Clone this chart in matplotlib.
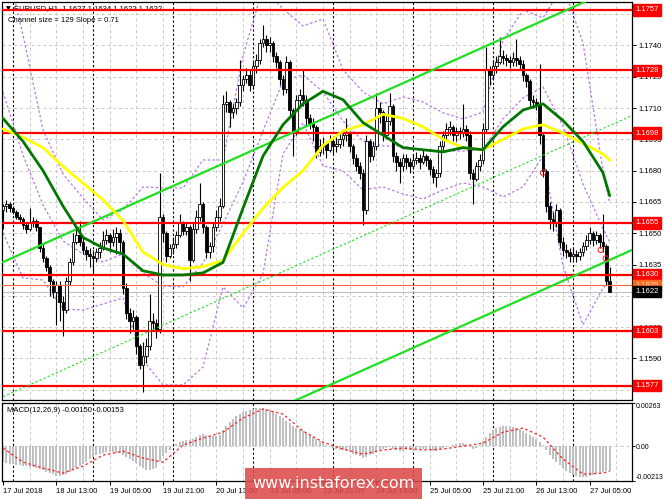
import matplotlib.pyplot as plt
from matplotlib.patches import Rectangle
import numpy as np

plt.rcParams['font.family'] = ['Liberation Sans', 'DejaVu Sans']

# EURUSD H1, bar 0 = 17 Jul 21:00
first_open = 1.1661
closes = [
    1.1663, 1.1664, 1.1662, 1.1660, 1.1658, 1.1657, 1.1654, 1.1652, 1.1655, 1.1656,
    1.1653, 1.1643, 1.1638, 1.1634, 1.1627, 1.1622, 1.1625, 1.1617, 1.1613, 1.1627,
    1.1636, 1.1646, 1.1649, 1.1646, 1.1642, 1.1640, 1.1639, 1.1638, 1.1641, 1.1643,
    1.1647, 1.1649, 1.1646, 1.1648, 1.1650, 1.1646, 1.1624, 1.1612, 1.1608, 1.1610,
    1.1596, 1.1587, 1.1591, 1.1596, 1.1608, 1.1607, 1.1604, 1.1658, 1.1650, 1.1639,
    1.1643, 1.1645, 1.1649, 1.1655, 1.1651, 1.1653, 1.1637, 1.1652, 1.1658, 1.1664,
    1.1653, 1.1641, 1.1644, 1.1653, 1.1658, 1.1663, 1.1712, 1.1713, 1.1708, 1.1710,
    1.1713, 1.1721, 1.1724, 1.1726, 1.1721, 1.1730, 1.1733, 1.1741, 1.1743, 1.1740,
    1.1741, 1.1735, 1.1732, 1.1724, 1.1719, 1.1732, 1.1709, 1.1699, 1.1714, 1.1716,
    1.1714, 1.1705, 1.1703, 1.1701, 1.1689, 1.1692, 1.1693, 1.1690, 1.1694, 1.1692,
    1.1693, 1.1695, 1.1697, 1.1698, 1.1692, 1.1686, 1.1682, 1.1679, 1.1661, 1.1694,
    1.1687, 1.1692, 1.1710, 1.1708, 1.1697, 1.1704, 1.1711, 1.1687, 1.1684, 1.1682,
    1.1686, 1.1684, 1.1682, 1.1685, 1.1686, 1.1684, 1.1687, 1.1685, 1.1681, 1.1677,
    1.1679, 1.1692, 1.1697, 1.1700, 1.1701, 1.1697, 1.1699, 1.1698, 1.1700, 1.1697,
    1.1679, 1.1676, 1.1682, 1.1685, 1.1700, 1.1728, 1.1726, 1.1730, 1.1732, 1.1735,
    1.1734, 1.1733, 1.1732, 1.1734, 1.1733, 1.1731, 1.1726, 1.1723, 1.1714, 1.1713,
    1.1712, 1.1697, 1.1680, 1.1663, 1.1657, 1.1655, 1.1661, 1.1646, 1.1642, 1.1641,
    1.1639, 1.1640, 1.1639, 1.1641, 1.1644, 1.1647, 1.1650, 1.1647, 1.1649, 1.1646,
    1.1644, 1.1627, 1.1622]
highs = [
    1.1664, 1.1666, 1.1665, 1.1663, 1.1661, 1.1659, 1.1658, 1.1655, 1.1662, 1.1658,
    1.1657, 1.1653, 1.1645, 1.1639, 1.1635, 1.1628, 1.1627, 1.1627, 1.1620, 1.1629,
    1.1638, 1.1650, 1.1652, 1.1656, 1.1648, 1.1644, 1.1643, 1.1642, 1.1643, 1.1646,
    1.1651, 1.1652, 1.1650, 1.1652, 1.1653, 1.1652, 1.1647, 1.1626, 1.1614, 1.1613,
    1.1611, 1.1597, 1.1598, 1.1600, 1.1621, 1.1612, 1.1609, 1.1679, 1.1659, 1.1651,
    1.1645, 1.1648, 1.1651, 1.1659, 1.1656, 1.1655, 1.1654, 1.1655, 1.1661, 1.1674,
    1.1665, 1.1654, 1.1646, 1.1655, 1.1661, 1.1667, 1.1716, 1.1718, 1.1714, 1.1712,
    1.1715, 1.1733, 1.1726, 1.1729, 1.1728, 1.1732, 1.1736, 1.1743, 1.1750, 1.1745,
    1.1744, 1.1742, 1.1737, 1.1733, 1.1726, 1.1735, 1.1733, 1.1710, 1.1716, 1.1719,
    1.1728, 1.1716, 1.1707, 1.1705, 1.1702, 1.1695, 1.1696, 1.1694, 1.1697, 1.1695,
    1.1696, 1.1698, 1.1699, 1.1705, 1.1699, 1.1693, 1.1688, 1.1684, 1.1681, 1.1697,
    1.1695, 1.1694, 1.1717, 1.1713, 1.1709, 1.1707, 1.1717, 1.1712, 1.1689, 1.1686,
    1.1688, 1.1688, 1.1686, 1.1688, 1.1689, 1.1688, 1.1690, 1.1688, 1.1686, 1.1682,
    1.1681, 1.1694, 1.1699, 1.1703, 1.1704, 1.1702, 1.1701, 1.1701, 1.1712, 1.1702,
    1.1699, 1.1681, 1.1684, 1.1688, 1.1703, 1.1739, 1.1730, 1.1733, 1.1735, 1.1744,
    1.1738, 1.1736, 1.1735, 1.1737, 1.1743, 1.1735, 1.1733, 1.1727, 1.1724, 1.1716,
    1.1715, 1.1731, 1.1698, 1.1681, 1.1665, 1.1660, 1.1664, 1.1662, 1.1648, 1.1645,
    1.1643, 1.1643, 1.1642, 1.1643, 1.1646, 1.1649, 1.1653, 1.1651, 1.1651, 1.1650,
    1.1659, 1.1645, 1.1634]
lows = [
    1.1652, 1.1660, 1.1660, 1.1659, 1.1657, 1.1655, 1.1652, 1.1650, 1.1651, 1.1653,
    1.1651, 1.1641, 1.1636, 1.1632, 1.1620, 1.1619, 1.1606, 1.1608, 1.1601, 1.1612,
    1.1625, 1.1635, 1.1645, 1.1644, 1.1640, 1.1637, 1.1634, 1.1630, 1.1636, 1.1638,
    1.1642, 1.1645, 1.1641, 1.1644, 1.1640, 1.1641, 1.1621, 1.1609, 1.1602, 1.1604,
    1.1592, 1.1585, 1.1574, 1.1588, 1.1594, 1.1603, 1.1600, 1.1602, 1.1646, 1.1636,
    1.1638, 1.1640, 1.1643, 1.1648, 1.1649, 1.1649, 1.1627, 1.1636, 1.1650, 1.1656,
    1.1650, 1.1638, 1.1638, 1.1641, 1.1651, 1.1656, 1.1662, 1.1708, 1.1701, 1.1705,
    1.1707, 1.1711, 1.1718, 1.1722, 1.1718, 1.1719, 1.1727, 1.1731, 1.1739, 1.1737,
    1.1737, 1.1732, 1.1729, 1.1721, 1.1716, 1.1717, 1.1706, 1.1687, 1.1697, 1.1711,
    1.1711, 1.1702, 1.1700, 1.1694, 1.1686, 1.1687, 1.1688, 1.1686, 1.1689, 1.1688,
    1.1689, 1.1691, 1.1692, 1.1694, 1.1689, 1.1683, 1.1680, 1.1676, 1.1654, 1.1659,
    1.1684, 1.1685, 1.1690, 1.1703, 1.1694, 1.1695, 1.1702, 1.1684, 1.1680, 1.1674,
    1.1680, 1.1681, 1.1679, 1.1681, 1.1683, 1.1681, 1.1683, 1.1682, 1.1678, 1.1674,
    1.1672, 1.1677, 1.1690, 1.1695, 1.1697, 1.1694, 1.1694, 1.1695, 1.1696, 1.1694,
    1.1676, 1.1664, 1.1675, 1.1680, 1.1683, 1.1698, 1.1721, 1.1724, 1.1727, 1.1731,
    1.1731, 1.1730, 1.1729, 1.1730, 1.1730, 1.1728, 1.1723, 1.1720, 1.1711, 1.1710,
    1.1709, 1.1693, 1.1677, 1.1660, 1.1652, 1.1651, 1.1653, 1.1643, 1.1639, 1.1638,
    1.1636, 1.1637, 1.1636, 1.1637, 1.1639, 1.1642, 1.1645, 1.1644, 1.1645, 1.1643,
    1.1641, 1.1625, 1.1622]
opens = [first_open] + closes[:-1]

# indicator lines, read every 6 bars
ma_idx = list(range(0, 181, 6)) + [182]
ma_green = [1.1705, 1.1694, 1.1680, 1.1663, 1.1648, 1.1643, 1.1640, 1.1632, 1.1630, 1.1630,
            1.1631, 1.1636, 1.1662, 1.1687, 1.1702, 1.1712, 1.1718, 1.1714, 1.1703, 1.1697,
            1.1691, 1.1690, 1.1689, 1.1691, 1.1690, 1.1701, 1.1709, 1.1712, 1.1704, 1.1694,
            1.1679, 1.1668]
ma_yellow = [1.1700, 1.1696, 1.1691, 1.1682, 1.1674, 1.1666, 1.1656, 1.1641, 1.1635, 1.1633,
             1.1634, 1.1637, 1.1650, 1.1662, 1.1672, 1.1680, 1.1692, 1.1699, 1.1702, 1.1707,
             1.1705, 1.1701, 1.1695, 1.1691, 1.1690, 1.1695, 1.1700, 1.1702, 1.1698, 1.1693,
             1.1688, 1.1685]
bb_upper = [1.17858, 1.17450, 1.16995, 1.16784, 1.16669, 1.16564, 1.16612, 1.16722,
            1.16717, 1.16717, 1.16851, 1.16851, 1.17350, 1.17676, 1.17575, 1.17493,
            1.17527, 1.17283, 1.17177, 1.17120, 1.17153, 1.17129, 1.17077, 1.17048,
            1.17081, 1.17422, 1.17570, 1.17532, 1.17685, 1.17412, 1.16803, 1.16645]
bb_mid = [1.17177, 1.16875, 1.16636, 1.16463, 1.16401, 1.16362, 1.16401, 1.16310,
          1.16247, 1.16243, 1.16358, 1.16545, 1.16746, 1.16990, 1.17230, 1.17259,
          1.17177, 1.17038, 1.16942, 1.16918, 1.16918, 1.16899, 1.16894, 1.16894,
          1.16899, 1.17048, 1.17148, 1.17201, 1.17014, 1.16736, 1.16521, 1.16458]
bb_lower = [1.16502, 1.16286, 1.16276, 1.16137, 1.16132, 1.16161, 1.16190, 1.15893,
            1.15773, 1.15773, 1.15859, 1.16243, 1.16142, 1.16305, 1.16880, 1.17029,
            1.16823, 1.16799, 1.16708, 1.16722, 1.16688, 1.16664, 1.16708, 1.16741,
            1.16722, 1.16674, 1.16722, 1.16870, 1.16343, 1.16061, 1.16238, 1.16267]

macd_hist = [
    -0.00098, -0.00104, -0.00110, -0.00110, -0.00116, -0.00116, -0.00122, -0.00122, -0.00128, -0.00128,
    -0.00134, -0.00140, -0.00146, -0.00159, -0.00165, -0.00171, -0.00183, -0.00183, -0.00177, -0.00171,
    -0.00159, -0.00146, -0.00134, -0.00122, -0.00110, -0.00098, -0.00079, -0.00067, -0.00055, -0.00049,
    -0.00043, -0.00037, -0.00037, -0.00037, -0.00043, -0.00043, -0.00055, -0.00067, -0.00079, -0.00092,
    -0.00104, -0.00122, -0.00134, -0.00146, -0.00146, -0.00140, -0.00134, -0.00092, -0.00061, -0.00043,
    -0.00024, -0.00006, 0.00012, 0.00024, 0.00031, 0.00037, 0.00037, 0.00043, 0.00055, 0.00067,
    0.00073, 0.00067, 0.00061, 0.00061, 0.00061, 0.00067, 0.00098, 0.00122, 0.00146, 0.00165,
    0.00183, 0.00195, 0.00207, 0.00214, 0.00220, 0.00226, 0.00232, 0.00232, 0.00232, 0.00226,
    0.00220, 0.00207, 0.00195, 0.00183, 0.00171, 0.00153, 0.00140, 0.00122, 0.00110, 0.00104,
    0.00092, 0.00079, 0.00067, 0.00055, 0.00043, 0.00031, 0.00018, 0.00006, 0.00000, -0.00012,
    -0.00018, -0.00024, -0.00024, -0.00031, -0.00037, -0.00049, -0.00055, -0.00061, -0.00073, -0.00067,
    -0.00055, -0.00049, -0.00037, -0.00024, -0.00018, -0.00012, -0.00006, -0.00018, -0.00024, -0.00031,
    -0.00031, -0.00024, -0.00024, -0.00024, -0.00018, -0.00018, -0.00018, -0.00018, -0.00024, -0.00031,
    -0.00031, -0.00024, -0.00012, -0.00006, 0.00000, 0.00006, 0.00012, 0.00018, 0.00018, 0.00012,
    -0.00006, -0.00018, -0.00012, 0.00006, 0.00031, 0.00055, 0.00079, 0.00098, 0.00110, 0.00116,
    0.00122, 0.00122, 0.00122, 0.00116, 0.00110, 0.00104, 0.00092, 0.00079, 0.00067, 0.00055,
    0.00043, 0.00024, 0.00006, -0.00024, -0.00055, -0.00079, -0.00098, -0.00116, -0.00134, -0.00153,
    -0.00165, -0.00177, -0.00183, -0.00189, -0.00189, -0.00189, -0.00183, -0.00177, -0.00171, -0.00165,
    -0.00159, -0.00153, -0.00150]
macd_signal = [-0.00012, -0.00098, -0.00134, -0.00165, -0.00122, -0.00055, -0.00031, -0.00073,
               -0.00098, 0.00006, 0.00049, 0.00085, 0.00171, 0.00226, 0.00195, 0.00092,
               0.00024, -0.00018, -0.00049, -0.00024, -0.00012, -0.00024, -0.00018, 0.00000,
               0.00018, 0.00085, 0.00110, 0.00055, -0.00079, -0.00171, -0.00165, -0.00153]

levels = [1.1757, 1.1728, 1.1698, 1.1655, 1.1630, 1.1603, 1.1577]
ask_level = 1.1625
bid_level = 1.1622

channel_idx = [0, 189]
channel_upper = [1.16362, 1.17712]
channel_mid = [1.15717, 1.17066]
channel_lower = [1.15073, 1.16422]

mark_idx = [162, 179.3, 180.8]
mark_price = [1.1679, 1.1642, 1.1638]

price_ticks = [1.1575, 1.1590, 1.1605, 1.1620, 1.1635, 1.1650, 1.1665,
               1.1680, 1.1695, 1.1710, 1.1725, 1.1740, 1.1755]
xtick_idx = [0, 16, 32, 48, 64, 80, 96, 112, 128, 144, 160, 176]
xtick_labels = ['17 Jul 2018', '18 Jul 13:00', '19 Jul 05:00', '19 Jul 21:00',
                '20 Jul 13:00', '23 Jul 05:00', '23 Jul 21:00', '24 Jul 13:00',
                '25 Jul 05:00', '25 Jul 21:00', '26 Jul 13:00', '27 Jul 05:00']
day_sep_idx = [3, 27, 51, 75, 99, 123, 147, 171]
grid_idx = list(range(8, 189, 8))

W, H = 665, 499
fig = plt.figure(figsize=(W / 100, H / 100), dpi=100)
ax = fig.add_axes([2 / W, 1 - 400 / H, 630 / W, 398 / H])
ax2 = fig.add_axes([2 / W, 1 - 481 / H, 630 / W, 78 / H])

FS = 5.5
grid_kw = dict(color='#c8c8c8', lw=0.7, ls=(0, (3, 3)), zorder=0)
sep_kw = dict(color='black', lw=0.8, ls=(0, (2, 2)), zorder=0.5)

for a in (ax, ax2):
    a.set_xlim(-0.3, 188.7)
    for s in a.spines.values():
        s.set_linewidth(0.9)
    for g in grid_idx:
        a.axvline(g, **grid_kw)
    for d in day_sep_idx:
        a.axvline(d, **sep_kw)
    a.yaxis.tick_right()

# ---- main price panel
ax.set_ylim(1.15701, 1.17608)
ax.set_yticks(price_ticks)
ax.set_yticklabels([f'{p:.4f}' for p in price_ticks])
ax.tick_params(axis='y', length=3, width=0.7, pad=2, labelsize=FS)
ax.tick_params(axis='x', bottom=False, labelbottom=False)
for p in price_ticks:
    ax.axhline(p, **grid_kw)

bb_kw = dict(color='#b877ea', lw=0.9, ls=(0, (2, 1.8)), zorder=1.5)
for band in (bb_upper, bb_mid, bb_lower):
    ax.plot(ma_idx, band, **bb_kw)

idx = np.arange(len(closes))
o = np.array(opens)
c = np.array(closes)
hi = np.maximum(np.array(highs), np.maximum(o, c))
lo = np.minimum(np.array(lows), np.minimum(o, c))
ax.vlines(idx, lo, hi, color='black', lw=0.8, zorder=2)
up = c >= o
body = np.maximum(np.abs(c - o), 0.00003)
ax.bar(idx[up], body[up], bottom=o[up], width=0.72, color='white',
       edgecolor='black', lw=0.6, zorder=3)
ax.bar(idx[~up], body[~up], bottom=c[~up], width=0.72, color='black',
       edgecolor='black', lw=0.6, zorder=3)

for lv in levels:
    ax.axhline(lv, color='#ff0000', lw=1.6, zorder=4)
ax.axhline(ask_level, color='#ff6a3a', lw=0.8, zorder=4)
ax.axhline(bid_level, color='#c0c0c0', lw=0.8, zorder=1)

ax.plot(channel_idx, channel_upper, color='#1ee01e', lw=1.6, zorder=5)
ax.plot(channel_idx, channel_lower, color='#1ee01e', lw=1.6, zorder=5)
ax.plot(channel_idx, channel_mid, color='#1ee01e', lw=0.8, ls=(0, (2, 2)), zorder=5)

ax.plot(ma_idx, ma_yellow, color='#ffff00', lw=2.0, zorder=6, solid_capstyle='round',
        solid_joinstyle='round')
ax.plot(ma_idx, ma_green, color='#007800', lw=2.0, zorder=6, solid_capstyle='round',
        solid_joinstyle='round')

ax.scatter(mark_idx, mark_price, s=14, facecolors='none', edgecolors='#ff2020',
           linewidths=0.7, zorder=7)

ytr = ax.get_yaxis_transform()
for lv in levels:
    ax.text(1.0 + 3 / 630, lv, f'{lv:.4f}', transform=ytr, ha='left', va='center',
            fontsize=FS, color='white', clip_on=False, zorder=10,
            bbox=dict(boxstyle='square,pad=0.3', fc='#ff0000', ec='#ff0000'))
ax.text(1.0 + 3 / 630, ask_level, f'{ask_level:.4f}', transform=ytr, ha='left', va='center',
        fontsize=FS, color='#ffe0c8', clip_on=False, zorder=10,
        bbox=dict(boxstyle='square,pad=0.3', fc='#ff6a20', ec='#ff6a20'))
ax.text(1.0 + 3 / 630, bid_level, f'{bid_level:.4f}', transform=ytr, ha='left', va='center',
        fontsize=FS, color='white', clip_on=False, zorder=11,
        bbox=dict(boxstyle='square,pad=0.3', fc='black', ec='black'))

ax.text(4 / 630, 1 - 7 / 398, '\u25bc', transform=ax.transAxes, fontsize=4.5,
        va='center', ha='left', family=['DejaVu Sans'], zorder=3)
ax.text(12 / 630, 1 - 7 / 398, 'EURUSD,H1  1.1627 1.1634 1.1622 1.1622',
        transform=ax.transAxes, fontsize=FS, va='center', ha='left', zorder=3)
ax.text(6 / 630, 1 - 18 / 398, 'Channel size = 129 Slope = 0.71',
        transform=ax.transAxes, fontsize=FS, va='center', ha='left', zorder=3)

# ---- MACD panel
ax2.set_ylim(-0.00213, 0.00263)
ax2.axhline(0, **grid_kw)
ax2.bar(idx, macd_hist, width=0.6, color='#c0c0c0', zorder=2)
ax2.plot(ma_idx, macd_signal, color='#ff2020', lw=0.9, ls=(0, (2, 2)), zorder=3)
ax2.set_yticks([0.00263, 0.0, -0.00213])
ax2.set_yticklabels(['0.00263', '0.00', '-0.00213'])
ax2.tick_params(axis='y', length=2, width=0.7, pad=1, labelsize=5.0)
tl = ax2.get_yticklabels()
tl[0].set_va('top')
tl[2].set_va('bottom')
ax2.set_xticks(xtick_idx)
ax2.set_xticklabels(xtick_labels, ha='left')
ax2.tick_params(axis='x', length=3, width=0.7, pad=2, labelsize=FS)
ax2.text(5 / 630, 1 - 8 / 78, 'MACD(12,26,9) -0.00150 -0.00153', transform=ax2.transAxes,
         fontsize=FS, va='center', ha='left')

# ---- watermark
fig.add_artist(Rectangle((245 / W, 1 - 499 / H), 177 / W, 31 / H, transform=fig.transFigure,
                         fc='#dd4a4a', ec='none', alpha=0.88, zorder=20))
fig.text(333 / W, 1 - 483 / H, 'www.instaforex.com', color='white', fontsize=11.5,
         ha='center', va='center', family=['DejaVu Sans'], zorder=21)

fig.savefig('out.png', dpi=100)
